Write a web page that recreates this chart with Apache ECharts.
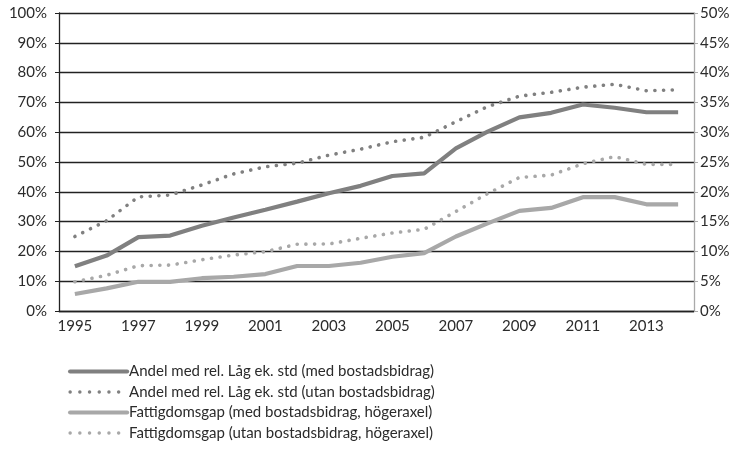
<!DOCTYPE html>
<html>
<head>
<meta charset="utf-8">
<script src="https://cdn.jsdelivr.net/npm/echarts@6/dist/echarts.min.js"></script>
<style>
  html, body { margin: 0; padding: 0; background: #fff; }
  #box { width: 734px; height: 452px; }
</style>
</head>
<body>
<div id="box"></div>
<script>
// years on the x axis
const years = ['1995','1996','1997','1998','1999','2000','2001','2002','2003','2004',
               '2005','2006','2007','2008','2009','2010','2011','2012','2013','2014'];

// left axis (%)
const andelMed   = [15, 18.6, 24.8, 25.3, 28.6, 31.4, 34, 36.7, 39.5, 42, 45.3, 46.2, 54.6, 60.2, 65, 66.5, 69.3, 68.2, 66.7, 66.7];
const andelUtan  = [25, 30.3, 38.3, 38.9, 42.3, 46, 48.4, 49.6, 52.3, 54.3, 56.8, 58.3, 63.5, 68.6, 72.1, 73.4, 75.1, 76.1, 73.9, 74.2];
// right axis (%)
const gapMed     = [2.85, 3.8, 4.9, 4.9, 5.5, 5.75, 6.2, 7.55, 7.55, 8.1, 9.1, 9.7, 12.5, 14.7, 16.8, 17.3, 19.1, 19.1, 17.9, 17.9];
const gapUtan    = [4.9, 6.0, 7.6, 7.7, 8.6, 9.4, 9.95, 11.2, 11.25, 12.2, 13.1, 13.7, 16.7, 19.7, 22.4, 22.8, 24.7, 25.9, 24.6, 24.6];

const names = [
  'Andel med rel. Låg ek. std (med bostadsbidrag)',
  'Andel med rel. Låg ek. std (utan bostadsbidrag)',
  'Fattigdomsgap (med bostadsbidrag, högeraxel)',
  'Fattigdomsgap (utan bostadsbidrag, högeraxel)'
];

const font = 'Lato';
const dark = '#808080';
const light = '#a8a8a8';
const dots = [0.1, 8.6];

let chart = echarts.init(document.getElementById('box'));

function line(name, data, color, dotted, axis) {
  return {
    name: name,
    type: 'line',
    data: data,
    yAxisIndex: axis,
    symbol: 'none',
    smooth: false,
    lineStyle: dotted
      ? { color: color, width: 3.6, type: dots, cap: 'round' }
      : { color: color, width: 4.2, cap: 'butt' },
    itemStyle: { color: color }
  };
}

// legend icons: thick solid bar / round dots
let legendData = names.map((n, i) => ({
  name: n,
  lineStyle: i % 2 === 0
    ? { width: 4.2, type: 'solid', cap: 'round' }
    : { width: 3.4, type: [0.1, 9.6], cap: 'round' }
}));

let options = {
  backgroundColor: '#fff',
  animation: false,
  textStyle: { fontFamily: font },
  grid: { left: 59, right: 40, top: 13, bottom: 141 },
  legend: {
    orient: 'vertical',
    left: 63,
    top: 359,
    itemWidth: 57,
    itemHeight: 15,
    itemGap: 5.5,
    itemStyle: { opacity: 0 },
    textStyle: { fontFamily: font, fontSize: 15, color: '#2b2b2b', padding: [0, 0, 0, -3] },
    data: legendData
  },
  xAxis: {
    type: 'category',
    data: years,
    boundaryGap: true,
    axisLine: { lineStyle: { color: '#222', width: 1.3 } },
    axisTick: { show: false },
    axisLabel: { interval: 1, color: '#2b2b2b', fontSize: 15, fontFamily: font, margin: 8 }
  },
  yAxis: [
    {
      type: 'value',
      min: 0, max: 100, interval: 10,
      axisLine: { show: true, lineStyle: { color: '#222', width: 1.3 } },
      axisTick: { show: true, length: 4, lineStyle: { color: '#222' } },
      axisLabel: { formatter: '{value}%', color: '#2b2b2b', fontSize: 15, fontFamily: font, margin: 12 },
      splitLine: { lineStyle: { color: '#222', width: 1.3 } }
    },
    {
      type: 'value',
      min: 0, max: 50, interval: 5,
      position: 'right',
      axisLine: { show: true, lineStyle: { color: '#aaa', width: 1.3 } },
      axisTick: { show: true, length: 4, lineStyle: { color: '#aaa' } },
      axisLabel: { formatter: '{value}%', color: '#2b2b2b', fontSize: 15, fontFamily: font, margin: 6 },
      splitLine: { show: false }
    }
  ],
  series: [
    line(names[0], andelMed, dark, false, 0),
    line(names[1], andelUtan, dark, true, 0),
    line(names[2], gapMed, light, false, 1),
    line(names[3], gapUtan, light, true, 1)
  ]
};

chart.setOption(options);
</script>
</body>
</html>
